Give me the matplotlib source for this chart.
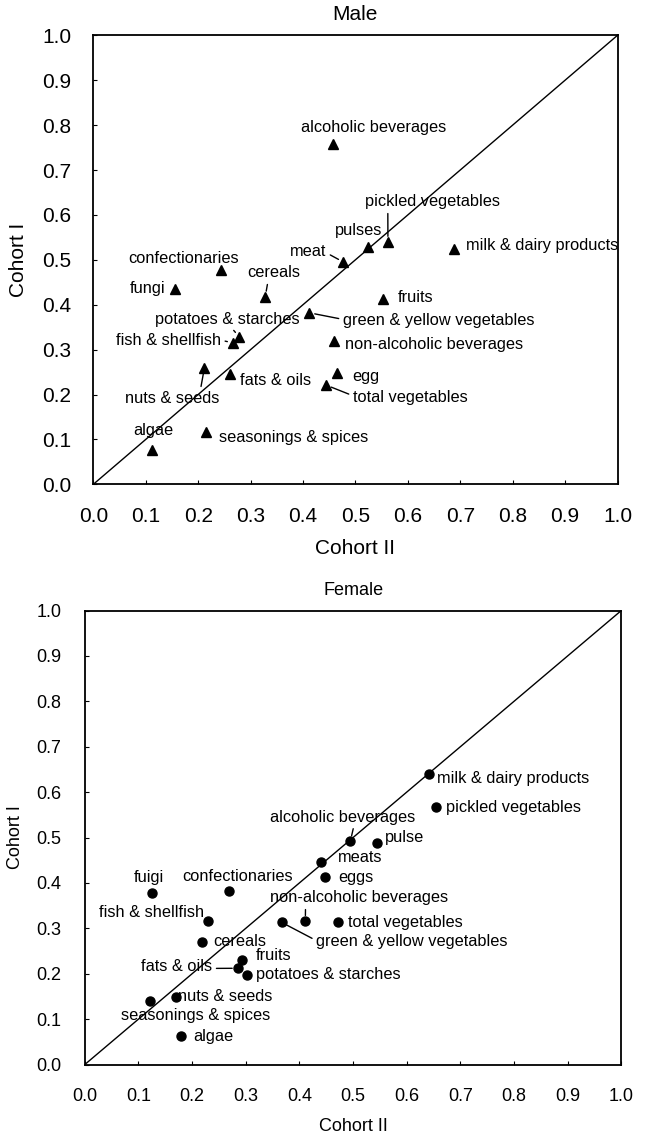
import matplotlib
matplotlib.use('Agg')
import matplotlib.pyplot as plt
import numpy as np

plt.rcParams['font.family'] = ['Liberation Sans', 'DejaVu Sans']

# ---- data: male (Cohort II on x, Cohort I on y)
male_foods = ['alcoholic beverages', 'pickled vegetables', 'pulses', 'meat',
              'milk & dairy products', 'fruits', 'green & yellow vegetables',
              'confectionaries', 'fungi', 'cereals', 'potatoes & starches',
              'fish & shellfish', 'non-alcoholic beverages', 'nuts & seeds',
              'fats & oils', 'egg', 'total vegetables', 'seasonings & spices', 'algae']
male_c2 = [0.458, 0.562, 0.524, 0.477, 0.688, 0.553, 0.412, 0.243, 0.156, 0.328,
           0.278, 0.266, 0.460, 0.212, 0.260, 0.465, 0.444, 0.215, 0.112]
male_c1 = [0.759, 0.540, 0.529, 0.495, 0.523, 0.412, 0.382, 0.477, 0.435, 0.418,
           0.329, 0.315, 0.320, 0.260, 0.246, 0.249, 0.221, 0.116, 0.076]

# ---- data: female
female_foods = ['milk & dairy products', 'pickled vegetables', 'alcoholic beverages',
                'pulse', 'meats', 'eggs', 'fuigi', 'confectionaries', 'fish & shellfish',
                'non-alcoholic beverages', 'green & yellow vegetables', 'total vegetables',
                'cereals', 'fruits', 'fats & oils', 'potatoes & starches', 'nuts & seeds',
                'seasonings & spices', 'algae']
female_c2 = [0.641, 0.655, 0.495, 0.545, 0.441, 0.448, 0.126, 0.268, 0.230, 0.411,
             0.367, 0.472, 0.219, 0.293, 0.285, 0.303, 0.170, 0.122, 0.180]
female_c1 = [0.639, 0.567, 0.492, 0.487, 0.447, 0.414, 0.377, 0.383, 0.316, 0.316,
             0.313, 0.313, 0.270, 0.230, 0.212, 0.197, 0.148, 0.141, 0.063]

ticks = np.round(np.arange(0, 1.01, 0.1), 1)
tick_labels = ['%.1f' % t for t in ticks]

# label placement: text left / middle, and where a leader line leaves the text
male_text = {
    'alcoholic beverages': (0.396, 0.794, None),
    'pickled vegetables': (0.518, 0.629, (0.17, 0)),
    'pulses': (0.461, 0.566, None),
    'meat': (0.375, 0.519, (1, 0.4)),
    'milk & dairy products': (0.711, 0.531, None),
    'fruits': (0.581, 0.416, None),
    'green & yellow vegetables': (0.476, 0.364, (0, 0.6)),
    'confectionaries': (0.066, 0.502, None),
    'fungi': (0.070, 0.435, None),
    'cereals': (0.293, 0.471, (0.4, 0)),
    'potatoes & starches': (0.118, 0.368, (0.52, 0)),
    'fish & shellfish': (0.043, 0.321, (1, 0.5)),
    'non-alcoholic beverages': (0.480, 0.312, None),
    'nuts & seeds': (0.060, 0.192, (0.8, 1)),
    'fats & oils': (0.280, 0.232, None),
    'egg': (0.493, 0.241, None),
    'total vegetables': (0.495, 0.194, (0, 0.6)),
    'seasonings & spices': (0.240, 0.105, None),
    'algae': (0.076, 0.119, None),
}
female_text = {
    'milk & dairy products': (0.656, 0.631, None),
    'pickled vegetables': (0.673, 0.567, None),
    'alcoholic beverages': (0.345, 0.545, (0.58, 0)),
    'pulse': (0.560, 0.501, None),
    'meats': (0.472, 0.455, None),
    'eggs': (0.472, 0.413, None),
    'fuigi': (0.092, 0.413, None),
    'confectionaries': (0.181, 0.415, None),
    'fish & shellfish': (0.026, 0.334, None),
    'non-alcoholic beverages': (0.345, 0.367, (0.2, 0)),
    'green & yellow vegetables': (0.431, 0.270, (0, 0.6)),
    'total vegetables': (0.491, 0.312, None),
    'cereals': (0.239, 0.272, None),
    'fruits': (0.319, 0.241, None),
    'fats & oils': (0.105, 0.215, (1, 0.4)),
    'potatoes & starches': (0.319, 0.199, None),
    'nuts & seeds': (0.174, 0.149, None),
    'seasonings & spices': (0.067, 0.107, None),
    'algae': (0.202, 0.061, None),
}


def draw(ax, foods, c2, c1, marker, ms, text_pos, title, fs, tfs, tpad, lpad):
    ax.plot([0, 1], [0, 1], color='black', lw=1.0)
    ax.plot(c2, c1, linestyle='none', marker=marker, ms=ms, color='black')
    for name, x, y in zip(foods, c2, c1):
        tx, ty, rel = text_pos[name]
        if rel is None:
            ax.text(tx, ty, name, ha='left', va='center', fontsize=fs)
        else:
            ax.annotate(name, xy=(x, y), xytext=(tx, ty), ha='left', va='center',
                        fontsize=fs,
                        arrowprops=dict(arrowstyle='-', color='black', lw=1.0,
                                        relpos=rel, shrinkA=1, shrinkB=4))
    ax.set_xlim(0, 1)
    ax.set_ylim(0, 1)
    ax.set_xticks(ticks)
    ax.set_yticks(ticks)
    ax.set_xticklabels(tick_labels)
    ax.set_yticklabels(tick_labels)
    ax.tick_params(direction='in', length=3, width=0.8, labelsize=tfs, pad=tpad)
    for s in ax.spines.values():
        s.set_linewidth(1.3)
    ax.set_title(title, fontsize=tfs, pad=11)
    ax.set_xlabel('Cohort II', fontsize=tfs, labelpad=lpad)
    ax.set_ylabel('Cohort I', fontsize=tfs, labelpad=lpad)


fig = plt.figure(figsize=(6.45, 11.35), dpi=100)
ax1 = fig.add_axes([0.1447, 0.5733, 0.8127, 0.3956])
ax2 = fig.add_axes([0.1315, 0.0621, 0.8318, 0.4000])

draw(ax1, male_foods, male_c2, male_c1, '^', 7.5, male_text, 'Male', 11.8, 15, 16, 10)
draw(ax2, female_foods, female_c2, female_c1, 'o', 6.5, female_text, 'Female', 11.8, 13, 17, 9)

fig.savefig('out.png', dpi=100)
